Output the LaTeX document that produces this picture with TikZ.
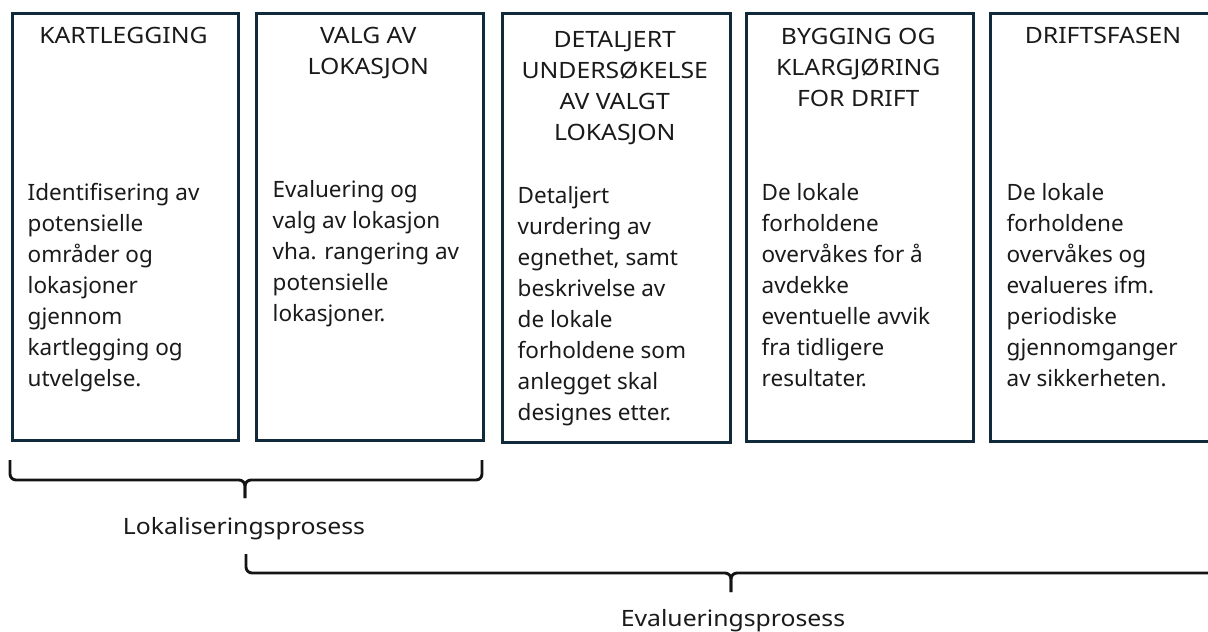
\documentclass[tikz,border=0pt]{standalone}
\usepackage{fontspec}
\setmainfont{Noto Sans}
\newfontfamily\widefont[FakeStretch=1.1]{Noto Sans}
\definecolor{boxc}{HTML}{10293B}
\definecolor{txt}{HTML}{1A1A1A}
\newcommand{\myst}{\rule{0pt}{21pt}}
\begin{document}
\begin{tikzpicture}[x=1pt,y=-1pt,
  phase/.style={draw=boxc,line width=3pt,fill=white,anchor=north west,inner sep=0pt},
  title/.style={anchor=north,align=center,inner sep=0pt,text=txt,font=\widefont\fontsize{22.5}{31}\selectfont},
  body/.style={anchor=north west,align=left,inner sep=0pt,text=txt,font=\fontsize{22.5}{31}\selectfont},
  brace/.style={draw=black!92,line width=2.9pt,rounded corners=6pt},
  lab/.style={anchor=base,inner sep=0pt,text=txt,font=\widefont\fontsize{22.5}{31}\selectfont}]
\useasboundingbox (0,0) rectangle (1208,632);
\clip (0,0) rectangle (1208,632);
\fill[white] (0,0) rectangle (1208,632);

% phase boxes
\node[phase,minimum width=226pt,minimum height=427pt] (b1) at (10.5,11.5) {};
\node[phase,minimum width=227.5pt,minimum height=427pt] (b2) at (254.5,11.5) {};
\node[phase,minimum width=227.5pt,minimum height=429pt] (b3) at (501,11.5) {};
\node[phase,minimum width=227.5pt,minimum height=428.5pt] (b4) at (744.5,11.5) {};
\node[phase,minimum width=228pt,minimum height=428pt] (b5) at (989,11.5) {};

% titles
\node[title] (t1) at (123.5,22) {\myst KARTLEGGING};
\node[title] (t2) at (368.25,22) {\myst VALG AV\\LOKASJON};
\node[title] (t3) at (614.75,26) {\myst DETALJERT\\UNDERSØKELSE\\AV VALGT\\LOKASJON};
\node[title] (t4) at (858.25,23) {\myst BYGGING OG\\KLARGJØRING\\FOR DRIFT};
\node[title] (t5) at (1103,22) {\myst DRIFTSFASEN};

% bodies
\node[body] (d1) at (27.5,179) {\myst Identifisering av\\potensielle\\områder og\\lokasjoner\\gjennom\\kartlegging og\\utvelgelse.};
\node[body] (d2) at (272.5,176) {\myst Evaluering og\\valg av lokasjon\\vha. rangering av\\potensielle\\lokasjoner.};
\node[body] (d3) at (517.5,182) {\myst Detaljert\\vurdering av\\egnethet, samt\\beskrivelse av\\de lokale\\forholdene som\\anlegget skal\\designes etter.};
\node[body] (d4) at (761.5,179) {\myst De lokale\\forholdene\\overvåkes for å\\avdekke\\eventuelle avvik\\fra tidligere\\resultater.};
\node[body] (d5) at (1006.5,179) {\myst De lokale\\forholdene\\overvåkes og\\evalueres ifm.\\periodiske\\gjennomganger\\av sikkerheten.};

% brace 1
\coordinate (p1l) at (10,460);
\coordinate (p1r) at (482,460);
\coordinate (p1m) at (245,480);
\coordinate (p1t) at (245,498);
\draw[brace] (p1l) |- (p1m) -- (p1t);
\draw[brace] (p1r) |- (p1m) -- (p1t);
\node[lab] (l1) at (244,534) {Lokaliseringsprosess};

% brace 2
\coordinate (p2l) at (246,554);
\coordinate (p2r) at (1216,573);
\coordinate (p2m) at (731,573);
\coordinate (p2t) at (731,592);
\draw[brace] (p2l) |- (p2m) -- (p2t);
\draw[brace] (p2r) -- (p2m) -- (p2t);
\node[lab] (l2) at (733,626) {Evalueringsprosess};
\end{tikzpicture}
\end{document}
